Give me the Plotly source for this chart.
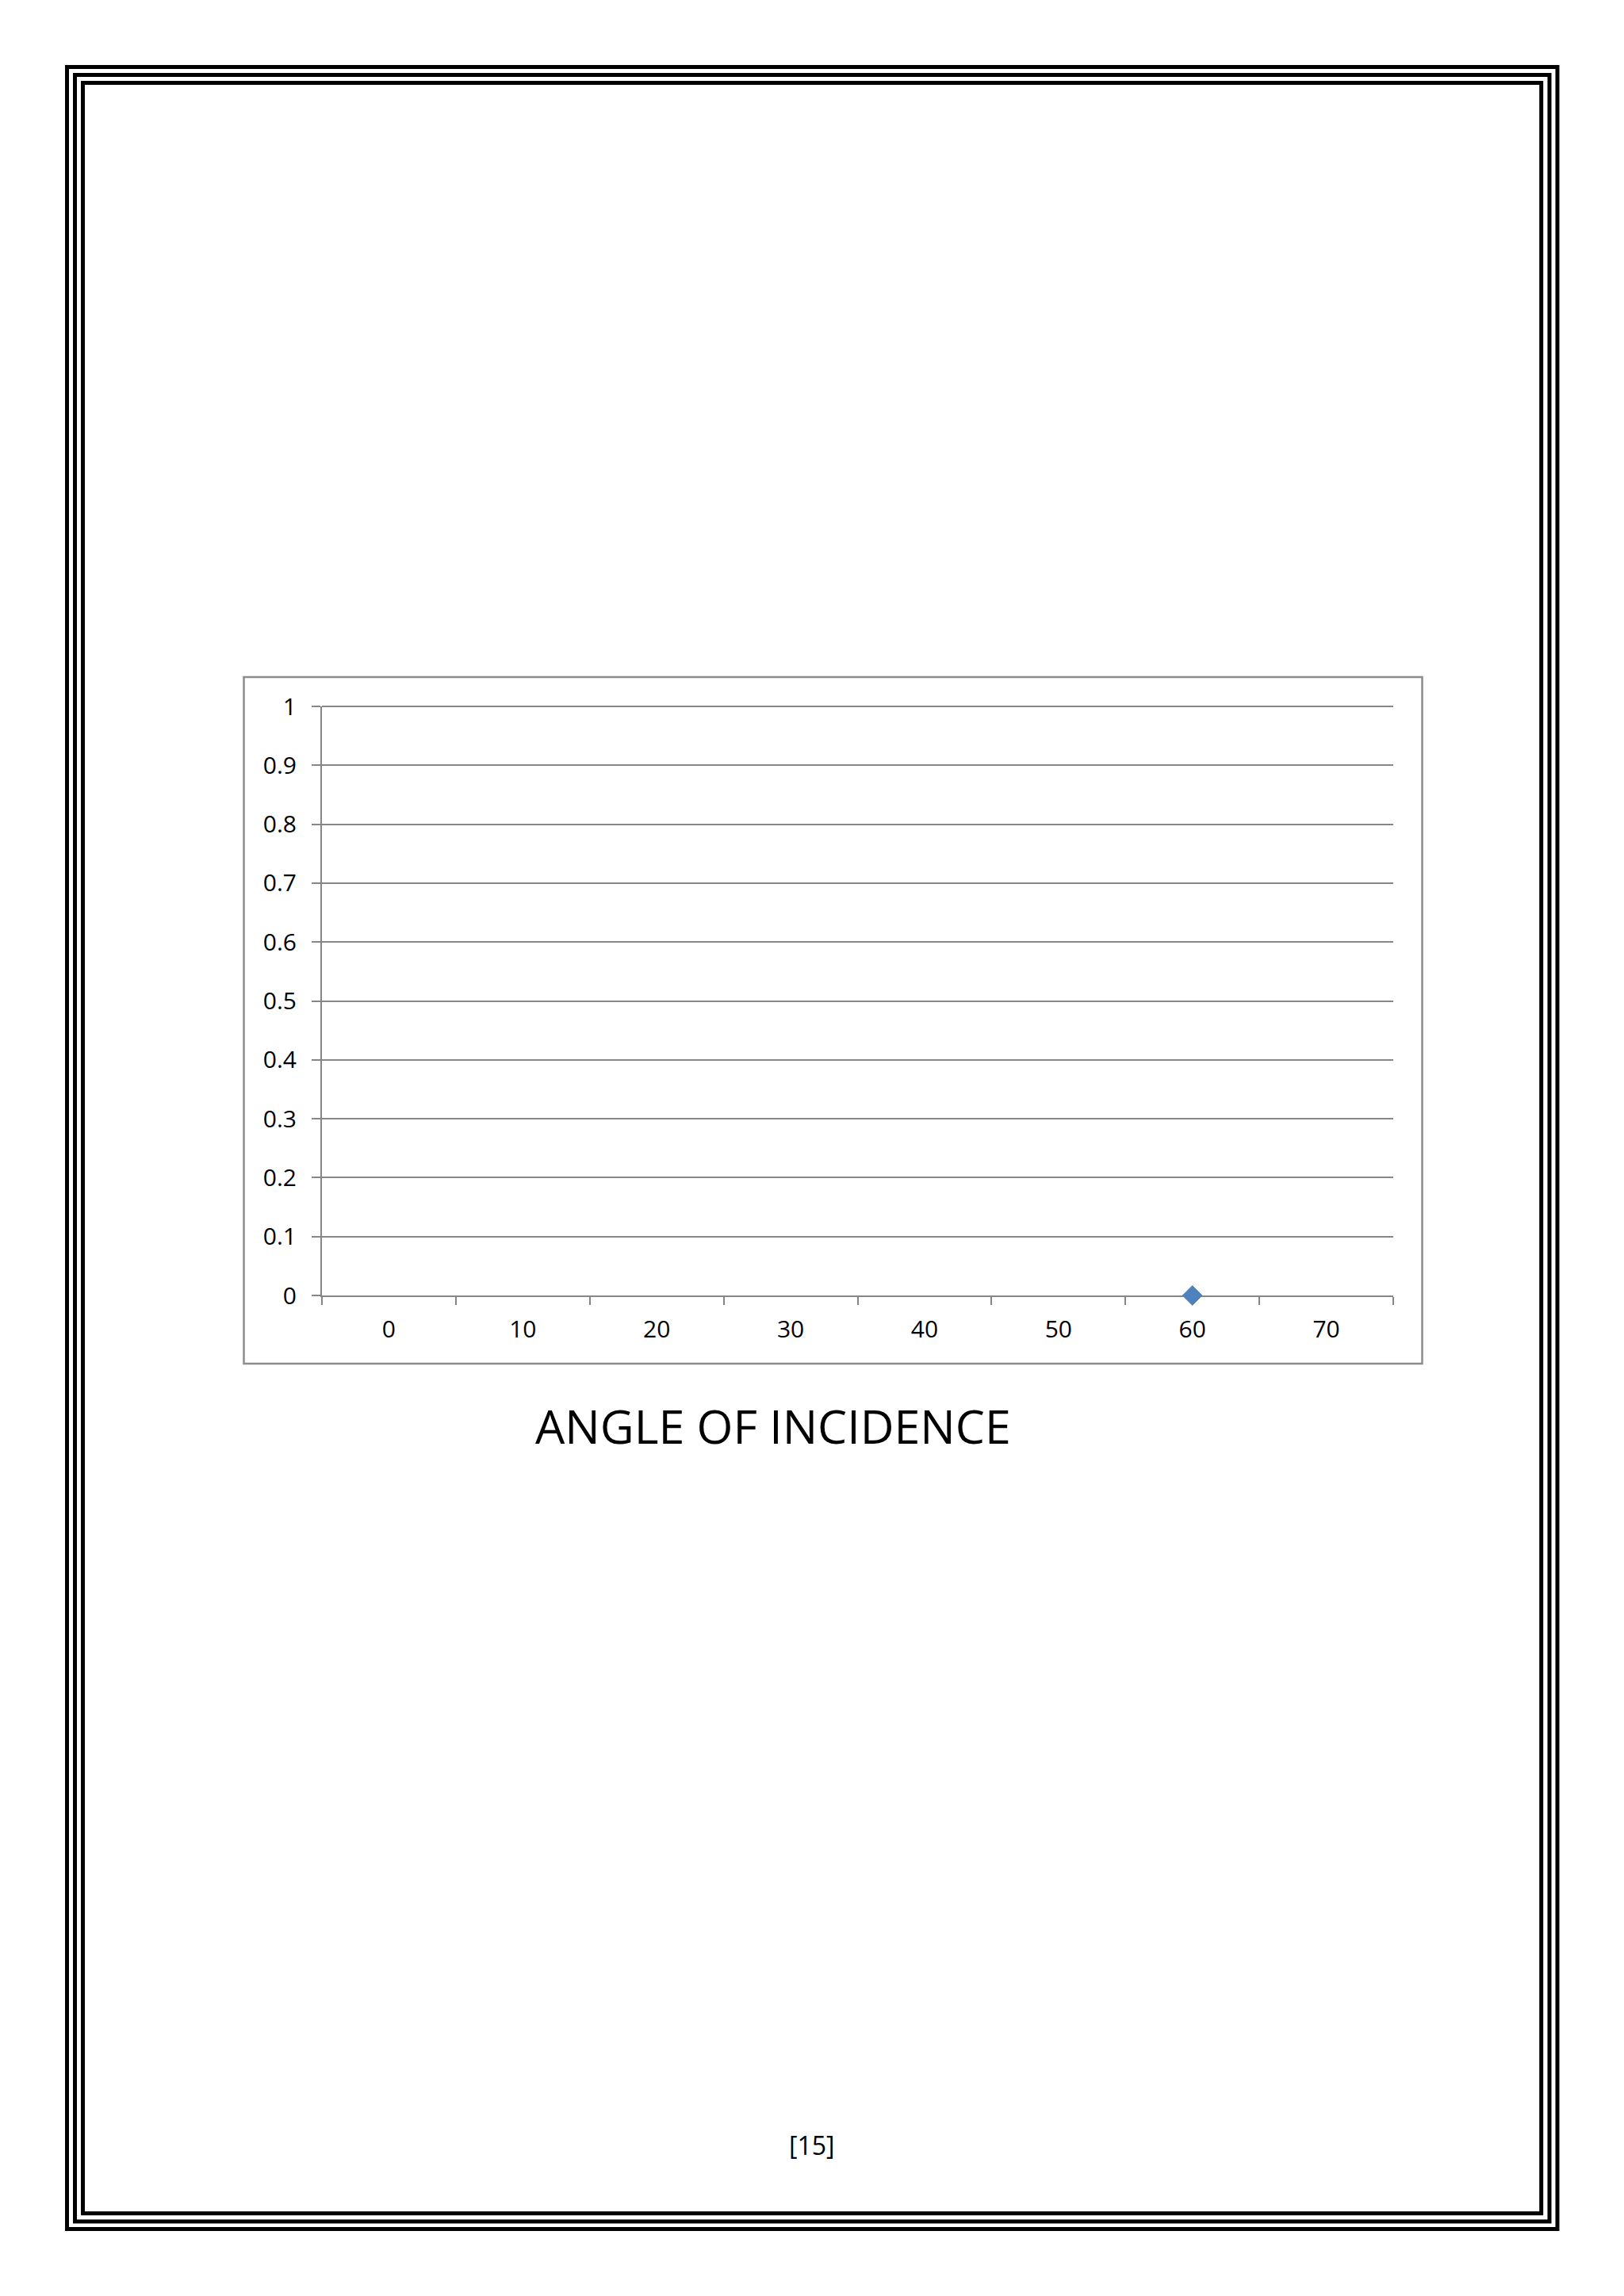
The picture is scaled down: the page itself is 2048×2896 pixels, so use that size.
import plotly.graph_objects as go

# ---- data ----
angles = ["0", "10", "20", "30", "40", "50", "60", "70"]
values = [None, None, None, None, None, None, 0, None]
y_tick_vals = [0, 0.1, 0.2, 0.3, 0.4, 0.5, 0.6, 0.7, 0.8, 0.9, 1]
y_tick_text = ["0", "0.1", "0.2", "0.3", "0.4", "0.5", "0.6", "0.7", "0.8", "0.9", "1"]
title_text = "ANGLE OF INCIDENCE"
page_text = "[15]"

W, H = 2048, 2896
FONT = "Open Sans, Noto Sans, sans-serif"
GRAY = "#868686"


def px(x):
    return x / W


def py(y):
    return 1 - y / H


X_DOMAIN = [px(406), px(1757)]
Y_DOMAIN = [py(1634), py(891)]

fig = go.Figure()
fig.add_trace(go.Scatter(
    x=angles, y=values, mode="markers",
    marker=dict(symbol="diamond", size=19, color="#4F81BD",
                line=dict(color="#4A7EBB", width=1)),
    cliponaxis=False, showlegend=False,
))

shapes = []
# page borders (three nested rectangles)
for (x0, y0, x1, y1) in [(84.5, 84.5, 1964, 2811.5),
                         (94.5, 94.5, 1954, 2802),
                         (104.5, 104.5, 1943.7, 2791.7)]:
    shapes.append(dict(type="rect", xref="paper", yref="paper",
                       x0=px(x0), x1=px(x1), y0=py(y1), y1=py(y0),
                       line=dict(color="black", width=5)))
# chart box
shapes.append(dict(type="rect", xref="paper", yref="paper",
                   x0=px(307.5), x1=px(1793.5), y0=py(1720), y1=py(854),
                   line=dict(color="#8C8C8C", width=2.5)))
# top gridline at the top of the plot area (plotly omits the edge grid line)
shapes.append(dict(type="line", xref="paper", yref="paper",
                   x0=X_DOMAIN[0], x1=X_DOMAIN[1],
                   y0=Y_DOMAIN[1], y1=Y_DOMAIN[1],
                   line=dict(color=GRAY, width=2), layer="below"))

fig.update_layout(
    width=W, height=H, autosize=False,
    margin=dict(l=0, r=0, t=0, b=0, pad=0),
    paper_bgcolor="white", plot_bgcolor="white",
    font=dict(family=FONT, color="black"),
    shapes=shapes,
    xaxis=dict(
        type="category", categoryorder="array", categoryarray=angles,
        range=[-0.5, 7.5], domain=X_DOMAIN,
        tickson="boundaries", ticks="outside", ticklen=10, tickwidth=2,
        tickcolor=GRAY, showgrid=False, zeroline=False,
        showline=True, linecolor=GRAY, linewidth=2,
        tickfont=dict(family=FONT, size=30, color="black"),
        ticklabelstandoff=15, layer="below traces", fixedrange=True,
        automargin=False,
    ),
    yaxis=dict(
        range=[0, 1], domain=Y_DOMAIN,
        tickmode="array", tickvals=y_tick_vals, ticktext=y_tick_text,
        ticks="outside", ticklen=11, tickwidth=2, tickcolor=GRAY,
        showgrid=True, gridcolor=GRAY, gridwidth=2,
        zeroline=False, showline=True, linecolor=GRAY, linewidth=2,
        tickfont=dict(family=FONT, size=30, color="black"),
        ticklabelstandoff=13, layer="below traces", fixedrange=True,
        automargin=False,
    ),
    annotations=[
        dict(text=title_text, xref="paper", yref="paper",
             x=px(975), y=py(1798), xanchor="center", yanchor="middle",
             showarrow=False, font=dict(family=FONT, size=59, color="black")),
        dict(text=page_text, xref="paper", yref="paper",
             x=px(1024), y=py(2705), xanchor="center", yanchor="middle",
             showarrow=False, font=dict(family=FONT, size=32, color="black")),
    ],
)

post = ("document.documentElement.style.margin='0';"
        "document.body.style.margin='0';"
        "document.body.style.padding='0';"
        "document.body.style.overflow='hidden';"
        "var gd=document.getElementById('{plot_id}');"
        "gd.style.position='absolute';gd.style.top='0px';gd.style.left='0px';")

fig.write_html("out.html", post_script=post, config={"displayModeBar": False})
